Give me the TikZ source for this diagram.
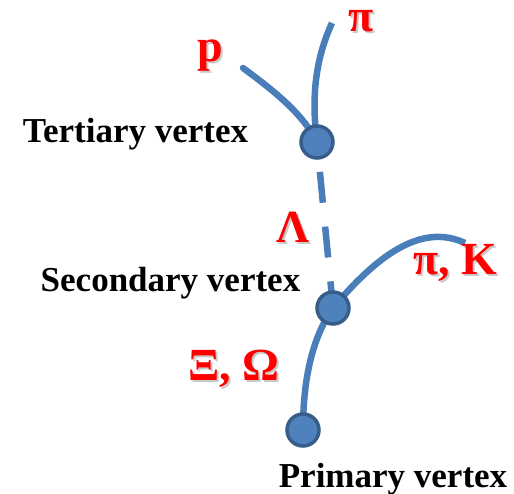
\documentclass[tikz,border=0pt]{standalone}
\usepackage{fontspec}
\setmainfont{Liberation Serif}
\definecolor{trk}{HTML}{4A7EBB}
\definecolor{vfill}{HTML}{4F81BD}
\definecolor{vedge}{HTML}{385D8A}
\begin{document}
\begin{tikzpicture}[x=1pt,y=-1pt,
  track/.style={draw=trk,line width=6.5pt},
  vtx/.style={circle,fill=vfill,draw=vedge,line width=3.5pt,minimum size=32pt,inner sep=0pt},
  blk/.style={anchor=base,inner sep=0pt,font=\fontsize{35}{40}\selectfont\bfseries,text=black},
  redlab/.style={anchor=base,inner sep=0pt,font=\fontsize{46}{50}\selectfont\bfseries,text=red},
  redshadow/.style={redlab,text=black!35,opacity=0.6}]
\useasboundingbox (0,0) rectangle (514,494);
% vertices (coordinates)
\coordinate (T) at (317,142);
\coordinate (S) at (333,308);
\coordinate (P) at (303,430);
\coordinate (pend) at (243,68);
\coordinate (piend) at (332,23);
\coordinate (kend) at (465,243);
% tracks
\draw[track,line cap=round] (pend) .. controls (270,88) and (302,112) .. (T);
\draw[track] (piend) .. controls (316,58) and (311,95) .. (T);
\draw[track,dash pattern=on 31pt off 24pt,dash phase=25pt] (T) -- (S);
\draw[track] (S) .. controls (375,258) and (420,222) .. (kend);
\draw[track] (S) .. controls (312,338) and (303,380) .. (P);
% vertex circles
\node[vtx] (tv) at (T) {};
\node[vtx] (sv) at (S) {};
\node[vtx] (pv) at (P) {};
% black labels
\node[blk] (tl) at (135.5,143) {Tertiary vertex};
\node[blk] (sl) at (170.5,292) {Secondary vertex};
\node[blk] (pl) at (393,487) {Primary vertex};
% red labels with shadows
\node[redshadow] (ps) at (212,64) {p};
\node[redlab] (p) at (210,62) {p};
\node[redshadow] (pis) at (363.5,34) {π};
\node[redlab] (pi) at (361.5,32) {π};
\node[redshadow] (ls) at (294.5,245) {Λ};
\node[redlab] (l) at (292.5,243) {Λ};
\node[redshadow] (pks) at (457,277) {π, K};
\node[redlab] (pk) at (455,275) {π, K};
\node[redshadow] (xos) at (235.5,382) {Ξ, Ω};
\node[redlab] (xo) at (233.5,380) {Ξ, Ω};
\end{tikzpicture}
\end{document}
